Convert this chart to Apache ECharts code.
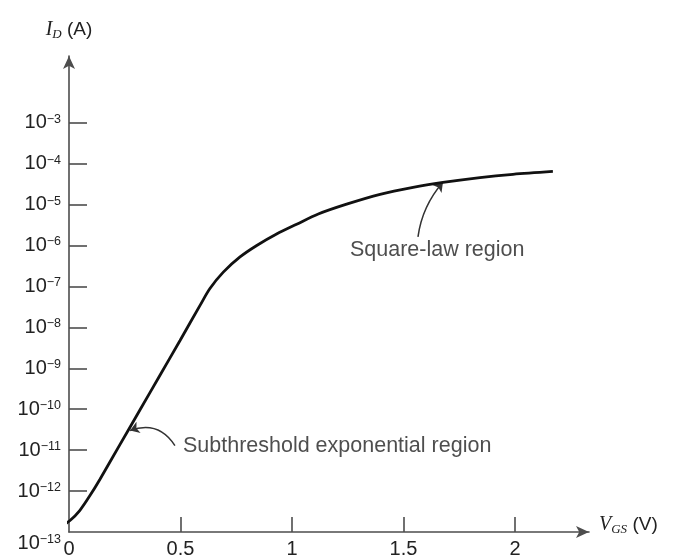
<!DOCTYPE html>
<html><head><meta charset="utf-8">
<script src="https://cdn.jsdelivr.net/npm/echarts@6/dist/echarts.min.js"></script>
<style>html,body{margin:0;padding:0;background:#fff}#c{width:675px;height:559px}</style>
</head><body><div id="c"></div>
<script>
// Gate-source voltage (V) and log10 of drain current (A)
const vgs = [-0.040, 0.0045, 0.049, 0.094, 0.139, 0.229, 0.318, 0.408, 0.498, 0.587, 0.632, 0.692, 0.767, 0.842, 0.931, 1.021, 1.118, 1.245, 1.395, 1.543, 1.677, 1.843, 1.991, 2.170];
const log10Id = [-12.88, -12.72, -12.47, -12.11, -11.71, -10.86, -10.02, -9.17, -8.32, -7.47, -7.05, -6.65, -6.28, -6.00, -5.72, -5.48, -5.23, -4.99, -4.75, -4.58, -4.46, -4.34, -4.26, -4.19];
// Tick values
const xTicks = [0, 0.5, 1, 1.5, 2];
const yTicks = [-13, -12, -11, -10, -9, -8, -7, -6, -5, -4, -3];
// Annotations (data coordinates)
const annotationText = ['Subthreshold exponential region', 'Square-law region'];
const annotationAt = [[0.511, -10.91], [1.260, -6.11]];
const arrowFrom = [[0.475, -10.89], [1.565, -5.79]];
const arrowTo = [[0.274, -10.52], [1.677, -4.456]];
const arrowBend = [-0.4, 0.15];

const SANS = '"Liberation Sans", Arial, Helvetica, sans-serif';
const SERIF = '"Liberation Serif", "Times New Roman", serif';
const AX = '#4d4d4d';
const TXT = '#222';

const chart = echarts.init(document.getElementById('c'));
chart.setOption({
  animation: false,
  backgroundColor: '#fff',
  grid: { left: 69, right: 86, top: 56, bottom: 24 },
  xAxis: {
    type: 'value', min: 0, max: 2.332,
    name: '{i|V}{sub|GS}{n| (V)}', nameLocation: 'end', nameGap: 10,
    nameTextStyle: {
      padding: [0, 0, 14, 0],
      rich: {
        i: { fontFamily: SERIF, fontStyle: 'italic', fontSize: 20, color: TXT, lineHeight: 22 },
        sub: { fontFamily: SERIF, fontStyle: 'italic', fontSize: 13, color: TXT, lineHeight: 12, verticalAlign: 'bottom' },
        n: { fontFamily: SANS, fontSize: 19, color: TXT, lineHeight: 22 }
      }
    },
    axisLine: { show: true, onZero: false, symbol: ['none', 'arrow'], symbolSize: [9, 13], lineStyle: { color: AX, width: 1.6 } },
    axisTick: { show: true, inside: true, length: 15, customValues: xTicks.filter(v => v !== 0), lineStyle: { color: AX, width: 1.6 } },
    axisLabel: { customValues: xTicks, margin: 7, fontFamily: SANS, fontSize: 20, color: TXT },
    splitLine: { show: false }
  },
  yAxis: {
    type: 'value', min: -13, max: -1.37,
    name: '{i|I}{sub|D}{n| (A)}', nameLocation: 'end', nameGap: 15,
    nameTextStyle: {
      align: 'center',
      rich: {
        i: { fontFamily: SERIF, fontStyle: 'italic', fontSize: 20, color: TXT, lineHeight: 22 },
        sub: { fontFamily: SERIF, fontStyle: 'italic', fontSize: 13, color: TXT, lineHeight: 12, verticalAlign: 'bottom' },
        n: { fontFamily: SANS, fontSize: 19, color: TXT, lineHeight: 22 }
      }
    },
    axisLine: { show: true, onZero: false, symbol: ['none', 'arrow'], symbolSize: [9, 13], lineStyle: { color: AX, width: 1.6 } },
    axisTick: { show: true, inside: true, length: 18, customValues: yTicks.filter(v => v !== -13), lineStyle: { color: AX, width: 1.6 } },
    axisLabel: {
      customValues: yTicks, margin: 8,
      formatter: v => v === -13
        ? '{gap| }\n{b|10}{s|\u2212' + (-v) + '}'
        : '{b|10}{s|\u2212' + (-v) + '}',
      rich: {
        gap: { fontSize: 10, lineHeight: 22 },
        b: { fontFamily: SANS, fontSize: 20, color: TXT, lineHeight: 20 },
        s: { fontFamily: SANS, fontSize: 12.5, color: TXT, lineHeight: 10, verticalAlign: 'top' }
      }
    },
    splitLine: { show: false }
  },
  series: [
    {
      name: 'I_D', type: 'line', data: vgs.map((v, i) => [v, log10Id[i]]),
      smooth: 0.3, showSymbol: false, clip: false,
      lineStyle: { color: '#111', width: 2.8 }
    },
    {
      name: 'arrows', type: 'lines', coordinateSystem: 'cartesian2d',
      symbol: ['none', 'arrow'], symbolSize: 9,
      lineStyle: { color: '#333', width: 1.5, opacity: 1 },
      data: arrowFrom.map((p, i) => ({ coords: [p, arrowTo[i]], lineStyle: { curveness: arrowBend[i] } }))
    },
    {
      name: 'labels', type: 'scatter', symbolSize: 0, silent: true,
      data: annotationAt.map((p, i) => ({ value: p, name: annotationText[i] })),
      label: { show: true, position: 'right', distance: 0, formatter: p => p.name, fontFamily: SANS, fontSize: 21.5, color: TXT }
    }
  ]
});
</script></body></html>
